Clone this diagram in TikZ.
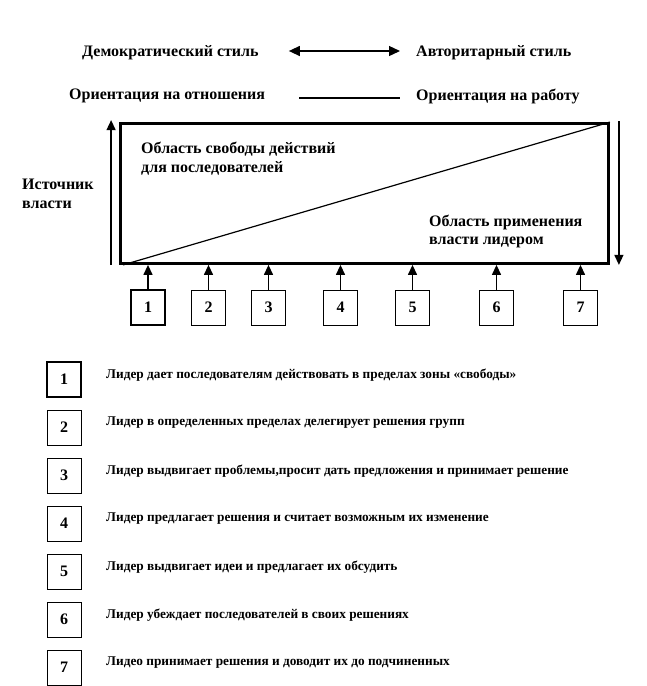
\documentclass[tikz,border=0pt]{standalone}
\usepackage{fontspec}
\setmainfont{Liberation Serif}
\usetikzlibrary{arrows.meta}

\tikzset{
  lbl/.style={font=\bfseries\fontsize{16}{18.5}\selectfont, inner sep=0pt, anchor=west, align=left},
  note/.style={font=\bfseries\fontsize{13.3}{15}\selectfont, inner sep=0pt, anchor=west},
  numbox/.style={draw, line width=0.9pt, minimum width=34pt, minimum height=35pt, inner sep=0pt, font=\bfseries\fontsize{16}{18}\selectfont},
  keybox/.style={numbox, line width=2.2pt},
  arr/.style={line width=1.3pt, -{Triangle[length=10pt,width=9pt]}},
}

\begin{document}
\begin{tikzpicture}[x=1pt,y=1pt]
	\useasboundingbox (0,0) rectangle (646,-686);
	\node [lbl] (demo) at (82,-53) {Демократический стиль};
	\node [lbl] (avtor) at (416,-53) {Авторитарный стиль};
	\node [lbl] (otnosh) at (69,-96) {Ориентация на отношения};
	\node [lbl] (rabota) at (416,-96) {Ориентация на работу};
	\draw [line width=1.3pt, {Triangle[length=11pt,width=10pt]}-{Triangle[length=11pt,width=10pt]}] ([xshift=30pt,yshift=2pt]demo.east) -- ([xshift=-16pt,yshift=2pt]avtor.west);
	\draw [line width=1.6pt] ([xshift=34pt,yshift=-2pt]otnosh.east) -- ([xshift=-16pt,yshift=-2pt]rabota.west);
	\node [draw, line width=2.8pt, minimum width=488pt, minimum height=140pt, inner sep=0pt] (field) at (364.5,-193.5) {};
	\draw [line width=1.2pt] ([xshift=4pt]field.south west) -- (field.north east);
	\draw [arr] ([xshift=-8pt]field.south west) -- ([xshift=-8pt,yshift=2pt]field.north west);
	\draw [arr] ([xshift=9pt,yshift=1pt]field.north east) -- ([xshift=9pt]field.south east);
	\node [lbl] (istochnik) at (22,-194) {Источник\\власти};
	\node [lbl] (svoboda) at (141,-158.5) {Область свободы действий\\для последователей};
	\node [lbl] (vlast) at (429,-231.5) {Область применения\\власти лидером};
	\node [keybox] (b1) at (148,-307.5) {1};
	\node [numbox] (b2) at (208.5,-307.5) {2};
	\node [numbox] (b3) at (268.5,-307.5) {3};
	\node [numbox] (b4) at (340.5,-307.5) {4};
	\node [numbox] (b5) at (412.5,-307.5) {5};
	\node [numbox] (b6) at (496.5,-307.5) {6};
	\node [numbox] (b7) at (580.5,-307.5) {7};
	\draw [arr] (b1.north) -- (b1.north |- field.south);
	\draw [arr] (b2.north) -- (b2.north |- field.south);
	\draw [arr] (b3.north) -- (b3.north |- field.south);
	\draw [arr] (b4.north) -- (b4.north |- field.south);
	\draw [arr] (b5.north) -- (b5.north |- field.south);
	\draw [arr] (b6.north) -- (b6.north |- field.south);
	\draw [arr] (b7.north) -- (b7.north |- field.south);
	\node [keybox] (k1) at (64,-379.5) {1};
	\node [numbox] (k2) at (64,-427.5) {2};
	\node [numbox] (k3) at (64,-475.5) {3};
	\node [numbox] (k4) at (64,-523.5) {4};
	\node [numbox] (k5) at (64,-571.5) {5};
	\node [numbox] (k6) at (64,-619.5) {6};
	\node [numbox] (k7) at (64,-667.5) {7};
	\node [note] (t1) at (106,-375) {Лидер дает последователям действовать в пределах зоны «свободы»};
	\node [note] (t2) at (106,-423) {Лидер в определенных пределах делегирует решения групп};
	\node [note] (t3) at (106,-471) {Лидер выдвигает проблемы,просит дать предложения и принимает решение};
	\node [note] (t4) at (106,-519) {Лидер предлагает решения и  считает возможным их изменение};
	\node [note] (t5) at (106,-567) {Лидер выдвигает идеи и предлагает их обсудить};
	\node [note] (t6) at (106,-615) {Лидер убеждает последователей в своих решениях};
	\node [note] (t7) at (106,-663) {Лидео принимает решения  и доводит их до подчиненных};
\end{tikzpicture}
\end{document}
